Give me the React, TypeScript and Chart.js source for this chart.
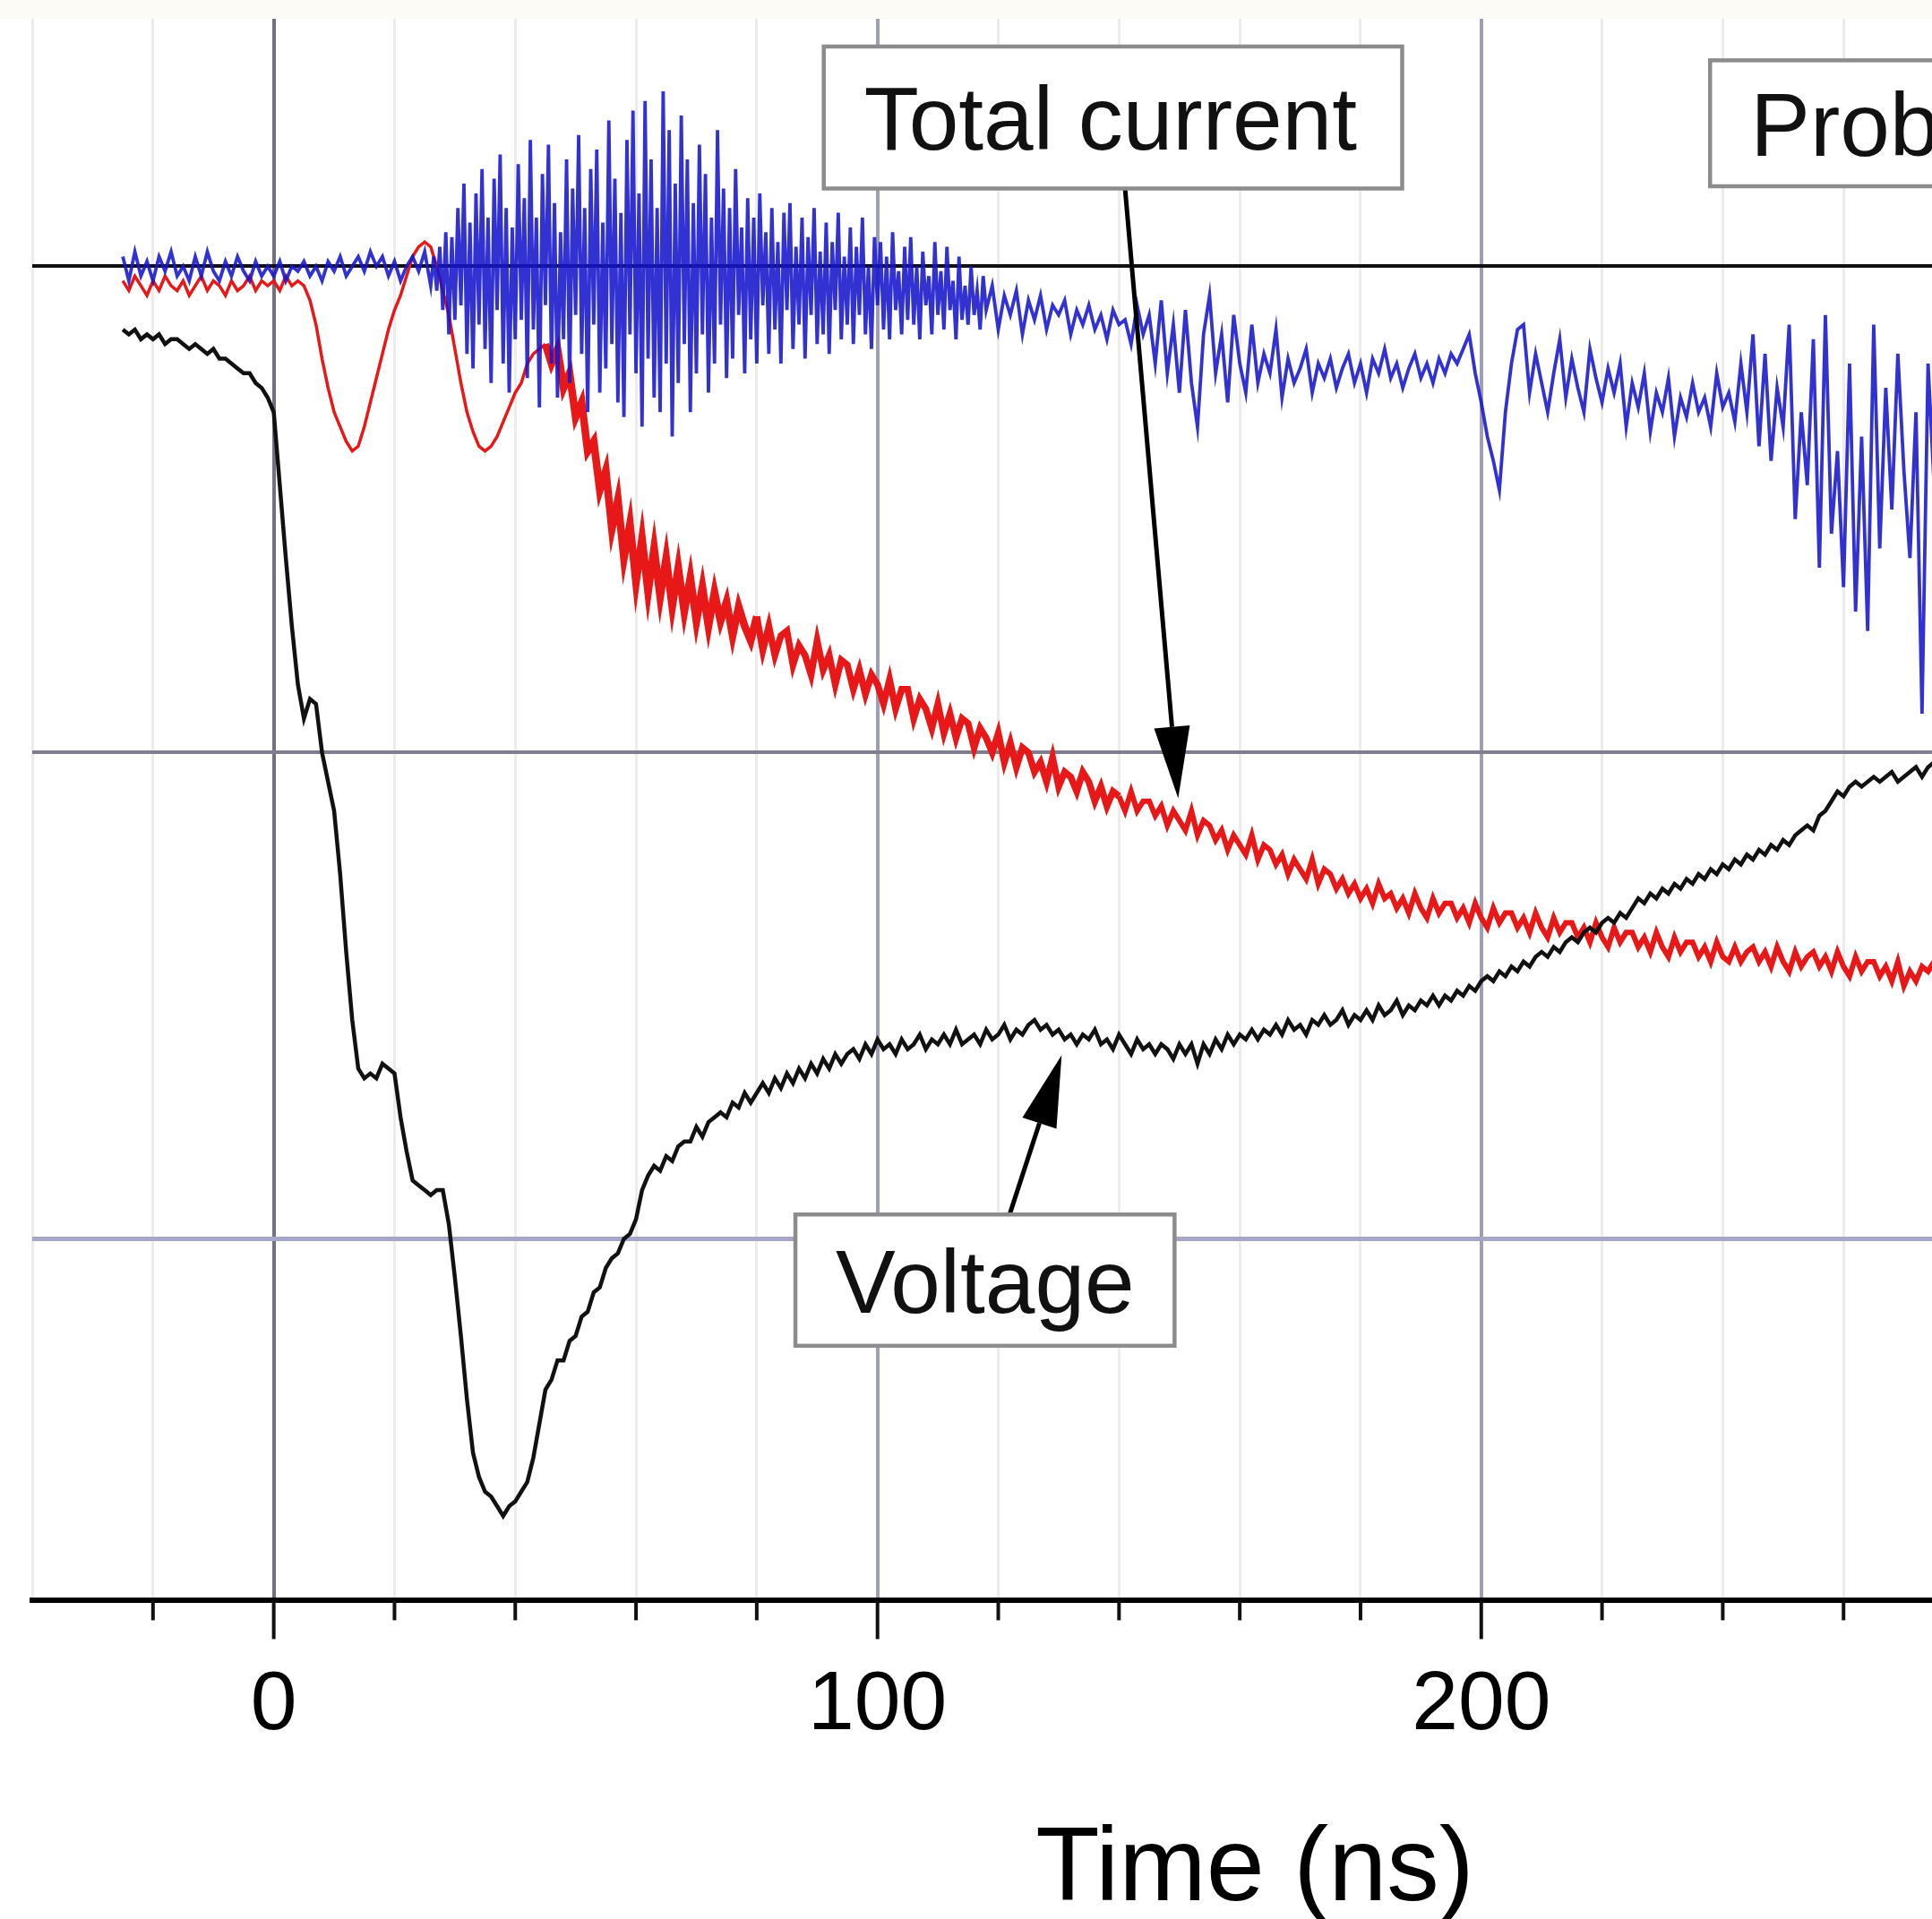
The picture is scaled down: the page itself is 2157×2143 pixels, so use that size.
import React, { useEffect, useRef } from "react";
import { Chart, registerables } from "chart.js";

Chart.register(...registerables);

// Sample times (ns) for voltage and total current
const TIME_NS = [
  -25,-24,-23,-22,-21,-20,-19,-18,-17,-16,-15,-14,-13,-12,-11,-10,-9,-8,-7,-6,
  -5,-4,-3,-2,-1,0,1,2,3,4,5,6,7,8,9,10,11,12,13,14,
  15,16,17,18,19,20,21,22,23,24,25,26,27,28,29,30,31,32,33,34,
  35,36,37,38,39,40,41,42,43,44,45,46,47,48,49,50,51,52,53,54,
  55,56,57,58,59,60,61,62,63,64,65,66,67,68,69,70,71,72,73,74,
  75,76,77,78,79,80,81,82,83,84,85,86,87,88,89,90,91,92,93,94,
  95,96,97,98,99,100,101,102,103,104,105,106,107,108,109,110,111,112,113,114,
  115,116,117,118,119,120,121,122,123,124,125,126,127,128,129,130,131,132,133,134,
  135,136,137,138,139,140,141,142,143,144,145,146,147,148,149,150,151,152,153,154,
  155,156,157,158,159,160,161,162,163,164,165,166,167,168,169,170,171,172,173,174,
  175,176,177,178,179,180,181,182,183,184,185,186,187,188,189,190,191,192,193,194,
  195,196,197,198,199,200,201,202,203,204,205,206,207,208,209,210,211,212,213,214,
  215,216,217,218,219,220,221,222,223,224,225,226,227,228,229,230,231,232,233,234,
  235,236,237,238,239,240,241,242,243,244,245,246,247,248,249,250,251,252,253,254,
  255,256,257,258,259,260,261,262,263,264,265,266,267,268,269,270,271,272,273,274,
  275,
];

// Voltage (black)
const VOLTAGE = [
  -0.13,-0.14,-0.13,-0.15,-0.14,-0.15,-0.14,-0.16,-0.15,-0.15,
  -0.16,-0.17,-0.16,-0.17,-0.18,-0.17,-0.19,-0.19,-0.2,-0.21,
  -0.22,-0.22,-0.24,-0.25,-0.27,-0.3,-0.45,-0.6,-0.74,-0.86,
  -0.93,-0.89,-0.9,-1.0,-1.06,-1.12,-1.25,-1.41,-1.55,-1.65,
  -1.67,-1.66,-1.67,-1.64,-1.65,-1.66,-1.75,-1.82,-1.88,-1.89,
  -1.9,-1.91,-1.9,-1.9,-1.97,-2.08,-2.2,-2.33,-2.44,-2.49,
  -2.52,-2.53,-2.55,-2.57,-2.55,-2.54,-2.52,-2.5,-2.45,-2.38,
  -2.31,-2.29,-2.25,-2.25,-2.21,-2.2,-2.16,-2.15,-2.11,-2.1,
  -2.06,-2.04,-2.03,-2.0,-1.99,-1.96,-1.9,-1.87,-1.85,-1.86,
  -1.83,-1.84,-1.81,-1.8,-1.8,-1.77,-1.79,-1.76,-1.75,-1.74,
  -1.75,-1.72,-1.73,-1.7,-1.72,-1.7,-1.68,-1.7,-1.67,-1.69,
  -1.66,-1.68,-1.65,-1.67,-1.64,-1.66,-1.63,-1.65,-1.62,-1.64,
  -1.62,-1.61,-1.63,-1.6,-1.62,-1.59,-1.61,-1.6,-1.62,-1.59,
  -1.61,-1.6,-1.58,-1.61,-1.59,-1.6,-1.58,-1.6,-1.57,-1.6,
  -1.59,-1.58,-1.6,-1.57,-1.59,-1.58,-1.56,-1.59,-1.57,-1.58,
  -1.56,-1.55,-1.57,-1.56,-1.58,-1.57,-1.59,-1.58,-1.6,-1.58,
  -1.59,-1.57,-1.6,-1.59,-1.61,-1.58,-1.6,-1.62,-1.59,-1.61,
  -1.6,-1.62,-1.6,-1.61,-1.63,-1.6,-1.62,-1.6,-1.64,-1.6,
  -1.62,-1.59,-1.61,-1.58,-1.6,-1.58,-1.59,-1.57,-1.59,-1.57,
  -1.58,-1.56,-1.58,-1.55,-1.57,-1.56,-1.58,-1.55,-1.56,-1.54,
  -1.56,-1.55,-1.53,-1.56,-1.54,-1.55,-1.53,-1.55,-1.52,-1.54,
  -1.53,-1.51,-1.54,-1.52,-1.53,-1.51,-1.52,-1.5,-1.52,-1.5,
  -1.51,-1.49,-1.5,-1.48,-1.49,-1.47,-1.46,-1.47,-1.45,-1.46,
  -1.44,-1.45,-1.43,-1.44,-1.42,-1.41,-1.42,-1.4,-1.41,-1.39,
  -1.38,-1.39,-1.37,-1.36,-1.37,-1.35,-1.34,-1.35,-1.33,-1.34,
  -1.32,-1.3,-1.31,-1.29,-1.3,-1.28,-1.29,-1.27,-1.28,-1.26,
  -1.27,-1.25,-1.26,-1.24,-1.25,-1.23,-1.24,-1.22,-1.23,-1.21,
  -1.22,-1.2,-1.21,-1.19,-1.2,-1.18,-1.19,-1.17,-1.16,-1.15,
  -1.16,-1.13,-1.12,-1.1,-1.08,-1.09,-1.07,-1.06,-1.07,-1.06,
  -1.05,-1.06,-1.05,-1.04,-1.06,-1.05,-1.04,-1.03,-1.05,-1.03,
  -1.02,
];

// Total current (red)
const TOTAL_CURRENT = [
  -0.03,-0.05,-0.02,-0.04,-0.06,-0.03,-0.05,-0.02,-0.04,-0.05,
  -0.03,-0.06,-0.04,-0.02,-0.05,-0.03,-0.04,-0.06,-0.03,-0.05,
  -0.04,-0.02,-0.05,-0.03,-0.04,-0.03,-0.05,-0.02,-0.04,-0.03,
  -0.04,-0.07,-0.12,-0.19,-0.25,-0.3,-0.33,-0.36,-0.38,-0.37,
  -0.33,-0.28,-0.23,-0.18,-0.13,-0.09,-0.06,-0.02,0.02,0.04,
  0.05,0.04,0.0,-0.05,-0.1,-0.17,-0.24,-0.3,-0.34,-0.37,
  -0.38,-0.37,-0.35,-0.32,-0.29,-0.26,-0.24,-0.2,-0.18,-0.17,
  -0.16,-0.2,-0.17,-0.25,-0.22,-0.31,-0.28,-0.38,-0.36,-0.46,
  -0.42,-0.54,-0.48,-0.6,-0.53,-0.65,-0.56,-0.67,-0.58,-0.68,
  -0.6,-0.7,-0.62,-0.71,-0.64,-0.73,-0.66,-0.74,-0.67,-0.73,
  -0.69,-0.76,-0.7,-0.74,-0.77,-0.72,-0.79,-0.74,-0.8,-0.76,
  -0.75,-0.82,-0.78,-0.8,-0.84,-0.77,-0.83,-0.8,-0.86,-0.81,
  -0.82,-0.87,-0.83,-0.88,-0.84,-0.86,-0.9,-0.85,-0.91,-0.87,
  -0.87,-0.93,-0.89,-0.91,-0.95,-0.9,-0.96,-0.92,-0.97,-0.93,
  -0.94,-0.99,-0.95,-0.97,-1.0,-0.96,-1.02,-0.98,-1.03,-0.99,
  -1.0,-1.04,-1.02,-1.06,-1.01,-1.07,-1.04,-1.05,-1.08,-1.04,
  -1.06,-1.1,-1.07,-1.11,-1.08,-1.09,-1.12,-1.08,-1.12,-1.1,
  -1.1,-1.13,-1.11,-1.15,-1.12,-1.14,-1.16,-1.12,-1.17,-1.14,
  -1.15,-1.18,-1.16,-1.2,-1.17,-1.19,-1.21,-1.17,-1.22,-1.19,
  -1.2,-1.23,-1.21,-1.25,-1.22,-1.24,-1.26,-1.22,-1.27,-1.24,
  -1.25,-1.28,-1.26,-1.29,-1.27,-1.3,-1.28,-1.31,-1.27,-1.3,
  -1.29,-1.32,-1.3,-1.33,-1.29,-1.32,-1.34,-1.3,-1.33,-1.31,
  -1.31,-1.34,-1.32,-1.35,-1.31,-1.34,-1.36,-1.32,-1.35,-1.33,
  -1.33,-1.36,-1.34,-1.37,-1.33,-1.36,-1.38,-1.34,-1.37,-1.35,
  -1.35,-1.38,-1.36,-1.39,-1.35,-1.38,-1.4,-1.36,-1.39,-1.37,
  -1.37,-1.4,-1.38,-1.41,-1.37,-1.4,-1.42,-1.38,-1.41,-1.39,
  -1.39,-1.42,-1.4,-1.43,-1.39,-1.42,-1.43,-1.4,-1.43,-1.41,
  -1.4,-1.43,-1.41,-1.44,-1.4,-1.43,-1.45,-1.41,-1.44,-1.42,
  -1.41,-1.44,-1.42,-1.45,-1.41,-1.44,-1.46,-1.42,-1.45,-1.43,
  -1.43,-1.46,-1.44,-1.47,-1.43,-1.48,-1.45,-1.47,-1.44,-1.45,
  -1.43,
];

// Sample times (ns) for the probe current (denser during the burst)
const PROBE_TIME = [
  -25,-24,-23,-22,-21,-20,-19,-18,-17,-16,-15,-14,-13,-12,-11,-10,-9,-8,-7,-6,
  -5,-4,-3,-2,-1,0,1,2,3,4,5,6,7,8,9,10,11,12,13,14,
  15,16,17,18,19,20,21,22,23,24,25,26,
  26.5,27,27.5,28,28.5,29,29.5,30,
  30.5,31,31.5,32,32.5,33,33.5,34,34.5,35,
  35.5,36,36.5,37,37.5,38,38.5,39,39.5,40,
  40.5,41,41.5,42,42.5,43,43.5,44,44.5,45,
  45.5,46,46.5,47,47.5,48,48.5,49,49.5,50,
  50.5,51,51.5,52,52.5,53,53.5,54,54.5,55,
  55.5,56,56.5,57,57.5,58,58.5,59,59.5,60,
  60.5,61,61.5,62,62.5,63,63.5,64,64.5,65,
  65.5,66,66.5,67,67.5,68,68.5,69,69.5,70,
  70.5,71,71.5,72,72.5,73,73.5,74,74.5,75,
  75.5,76,76.5,77,77.5,78,78.5,79,79.5,80,
  80.5,81,81.5,82,82.5,83,83.5,84,84.5,85,
  85.5,86,86.5,87,87.5,88,88.5,89,89.5,90,
  90.5,91,91.5,92,92.5,93,93.5,94,94.5,95,
  95.5,96,96.5,97,97.5,98,98.5,99,99.5,100,
  100.5,101,101.5,102,102.5,103,103.5,104,104.5,105,
  105.5,106,106.5,107,107.5,108,108.5,109,109.5,110,
  110.5,111,111.5,112,112.5,113,113.5,114,114.5,115,
  115.5,116,116.5,117,117.5,118,
  119,120,121,122,123,124,
  125,126,127,128,129,130,131,132,133,134,135,136,137,138,139,140,141,142,143,144,
  145,146,147,148,149,150,151,152,153,154,155,156,157,158,159,160,161,162,163,164,
  165,166,167,168,169,170,171,172,173,174,175,176,177,178,179,180,181,182,183,184,
  185,186,187,188,189,190,191,192,193,194,195,196,197,198,199,200,201,202,203,204,
  205,206,207,208,209,210,211,212,213,214,215,216,217,218,219,220,221,222,223,224,
  225,226,227,228,229,230,231,232,233,234,235,236,237,238,239,240,241,242,243,244,
  245,246,247,248,249,250,251,252,253,254,255,256,257,258,259,260,261,262,263,264,
  265,266,267,268,269,270,271,272,273,274,275,
];

// Probe current (blue)
const PROBE_CURRENT = [
  0.02,-0.03,0.03,-0.02,0.01,-0.03,0.02,-0.01,0.03,-0.02,
  0.0,-0.03,0.02,-0.02,0.03,-0.01,-0.03,0.01,-0.02,0.02,
  -0.01,-0.03,0.01,-0.02,0.0,-0.02,0.01,-0.03,0.0,-0.01,
  0.01,-0.02,0.0,-0.03,0.01,-0.01,0.02,-0.02,0.0,0.02,
  -0.01,0.03,0.0,0.02,-0.02,0.01,-0.03,0.0,0.02,-0.01,
  0.03,-0.04,
  0.02,-0.05,0.04,-0.09,0.07,-0.14,0.06,-0.11,
  0.12,-0.08,0.17,-0.18,0.09,-0.21,0.15,-0.12,0.2,-0.17,
  0.1,-0.24,0.18,-0.09,0.23,-0.2,0.12,-0.26,0.08,-0.15,
  0.21,-0.11,0.14,-0.23,0.26,-0.13,0.1,-0.29,0.19,-0.08,
  0.25,-0.2,0.13,-0.27,0.07,-0.15,0.22,-0.24,0.16,-0.1,
  0.27,-0.18,0.12,-0.3,0.2,-0.12,0.24,-0.26,0.09,-0.21,
  0.3,-0.16,0.18,-0.28,0.11,-0.31,0.26,-0.14,0.32,-0.22,
  0.15,-0.33,0.34,-0.19,0.22,-0.27,0.12,-0.3,0.36,-0.2,
  0.28,-0.35,0.17,-0.24,0.31,-0.16,0.22,-0.3,0.13,-0.22,
  0.25,-0.14,0.19,-0.26,0.1,-0.2,0.28,-0.12,0.16,-0.23,
  0.12,-0.19,0.2,-0.1,0.08,-0.22,0.14,-0.15,0.1,-0.2,
  0.15,-0.08,0.07,-0.18,0.12,-0.13,0.05,-0.2,0.11,-0.09,
  0.13,-0.17,0.04,-0.12,0.1,-0.19,0.06,-0.1,0.12,-0.16,
  0.03,-0.14,0.09,-0.18,0.05,-0.09,0.11,-0.15,0.02,-0.12,
  0.08,-0.16,0.04,-0.1,0.1,-0.14,0.0,-0.17,0.06,-0.08,
  0.05,-0.13,0.02,-0.15,0.07,-0.09,-0.01,-0.14,0.04,-0.11,
  0.06,-0.12,0.0,-0.15,0.03,-0.08,-0.02,-0.14,0.05,-0.1,
  -0.01,-0.13,0.04,-0.09,-0.03,-0.15,0.02,-0.11,-0.04,-0.12,
  0.0,-0.1,-0.05,-0.13,-0.02,-0.09,
  -0.04,-0.13,-0.06,-0.1,-0.05,-0.14,
  -0.07,-0.11,-0.06,-0.13,-0.08,-0.1,-0.07,-0.14,-0.09,-0.12,
  -0.08,-0.13,-0.1,-0.15,-0.09,-0.12,-0.11,-0.16,-0.08,-0.14,
  -0.1,-0.2,-0.07,-0.22,-0.12,-0.26,-0.09,-0.24,-0.33,-0.14,
  -0.06,-0.22,-0.14,-0.28,-0.1,-0.2,-0.26,-0.12,-0.24,-0.18,
  -0.22,-0.13,-0.27,-0.19,-0.24,-0.21,-0.17,-0.26,-0.2,-0.23,
  -0.19,-0.25,-0.21,-0.18,-0.24,-0.2,-0.26,-0.19,-0.22,-0.17,
  -0.23,-0.2,-0.25,-0.21,-0.18,-0.23,-0.2,-0.24,-0.19,-0.22,
  -0.18,-0.2,-0.17,-0.14,-0.22,-0.28,-0.35,-0.4,-0.46,-0.3,
  -0.2,-0.13,-0.12,-0.26,-0.18,-0.24,-0.3,-0.22,-0.15,-0.27,
  -0.19,-0.25,-0.3,-0.17,-0.23,-0.28,-0.21,-0.26,-0.2,-0.33,
  -0.24,-0.29,-0.22,-0.34,-0.26,-0.3,-0.23,-0.35,-0.27,-0.31,
  -0.24,-0.3,-0.27,-0.33,-0.22,-0.29,-0.26,-0.32,-0.2,-0.3,
  -0.14,-0.37,-0.18,-0.4,-0.25,-0.33,-0.12,-0.52,-0.3,-0.45,
  -0.15,-0.62,-0.1,-0.55,-0.38,-0.66,-0.2,-0.71,-0.35,-0.75,
  -0.12,-0.58,-0.25,-0.5,-0.18,-0.42,-0.6,-0.3,-0.92,-0.2,
  -0.45,
];

// Axis ticks / grid
const X_TICKS = [-40,-20,0,20,40,60,80,100,120,140,160,180,200,220,240,260,280,300,320,340,360];
const X_LABELED = [0, 100, 200, 300];
const Y_GRID = [-2, -1, 0];
const X_MIN = -40;
const X_MAX = 365;
const Y_MIN = -2.744;
const Y_MAX = 0.509;

// Annotations (data coordinates)
const ANNOTATIONS = [
  { text: "Total current", box: [91.1, 0.452, 186.9, 0.16], from: [141.0, 0.16], to: [149.8, -1.094] },
  { text: "Voltage", box: [86.4, -1.95, 149.2, -2.22], from: [121.8, -1.953], to: [130.5, -1.622] },
  { text: "Probe current", box: [237.9, 0.4236, 342.0, 0.1646] },
];

const FONT = '"Liberation Sans", Arial, sans-serif';

const bgPlugin = {
  id: "bg",
  beforeDraw(chart: any) {
    const { ctx, width, height, chartArea } = chart;
    ctx.save();
    ctx.fillStyle = "#ffffff";
    ctx.fillRect(0, 0, width, height);
    ctx.fillStyle = "#fcfbf5";
    ctx.fillRect(0, 0, width, chartArea.top);
    ctx.restore();
  },
};

const tickMarkPlugin = {
  id: "tickMarks",
  afterDraw(chart: any) {
    const { ctx, chartArea } = chart;
    const xs = chart.scales.x;
    ctx.save();
    ctx.strokeStyle = "#111";
    ctx.lineWidth = 4;
    X_TICKS.forEach((v) => {
      if (v <= X_MIN) return;
      const px = xs.getPixelForValue(v);
      const len = v % 100 === 0 ? 43 : 22;
      ctx.beginPath();
      ctx.moveTo(px, chartArea.bottom);
      ctx.lineTo(px, chartArea.bottom + len);
      ctx.stroke();
    });
    ctx.restore();
  },
};

const annotationPlugin = {
  id: "annots",
  afterDatasetsDraw(chart: any) {
    const { ctx } = chart;
    const xs = chart.scales.x;
    const ys = chart.scales.y;
    ctx.save();
    ANNOTATIONS.forEach((a: any) => {
      if (a.from && a.to) {
        const x1 = xs.getPixelForValue(a.from[0]);
        const y1 = ys.getPixelForValue(a.from[1]);
        const x2 = xs.getPixelForValue(a.to[0]);
        const y2 = ys.getPixelForValue(a.to[1]);
        const ang = Math.atan2(y2 - y1, x2 - x1);
        const headLen = 80;
        const headHalf = 20;
        const bx = x2 - headLen * Math.cos(ang);
        const by = y2 - headLen * Math.sin(ang);
        ctx.strokeStyle = "#000";
        ctx.lineWidth = 5;
        ctx.beginPath();
        ctx.moveTo(x1, y1);
        ctx.lineTo(bx, by);
        ctx.stroke();
        ctx.fillStyle = "#000";
        ctx.beginPath();
        ctx.moveTo(x2, y2);
        ctx.lineTo(bx + headHalf * Math.sin(ang), by - headHalf * Math.cos(ang));
        ctx.lineTo(bx - headHalf * Math.sin(ang), by + headHalf * Math.cos(ang));
        ctx.closePath();
        ctx.fill();
      }
      const l = xs.getPixelForValue(a.box[0]);
      const t = ys.getPixelForValue(a.box[1]);
      const r = xs.getPixelForValue(a.box[2]);
      const b = ys.getPixelForValue(a.box[3]);
      ctx.fillStyle = "#ffffff";
      ctx.fillRect(l, t, r - l, b - t);
      ctx.strokeStyle = "#8c8c8c";
      ctx.lineWidth = 4.5;
      ctx.strokeRect(l, t, r - l, b - t);
      ctx.fillStyle = "#111";
      ctx.font = `100px ${FONT}`;
      ctx.textAlign = "left";
      ctx.textBaseline = "alphabetic";
      ctx.fillText(a.text, l + 45, (t + b) / 2 + 36);
    });
    ctx.restore();
  },
};

export default function App() {
  const ref = useRef<HTMLCanvasElement | null>(null);

  useEffect(() => {
    if (!ref.current) return;
    const mk = (times: number[], vals: number[]) => times.map((t, i) => ({ x: t, y: vals[i] }));
    const chart = new Chart(ref.current, {
      type: "line",
      data: {
        datasets: [
          {
            label: "Voltage",
            data: mk(TIME_NS, VOLTAGE),
            borderColor: "#111111",
            borderWidth: 4.5,
            pointRadius: 0,
            tension: 0,
            order: 0,
          },
          {
            label: "Probe current",
            data: mk(PROBE_TIME, PROBE_CURRENT),
            borderColor: "rgba(22,22,205,0.88)",
            borderWidth: 3.8,
            pointRadius: 0,
            tension: 0,
            order: 1,
          },
          {
            label: "Total current",
            data: mk(TIME_NS, TOTAL_CURRENT),
            borderColor: "rgb(232,24,24)",
            borderWidth: 3,
            pointRadius: 0,
            tension: 0,
            order: 2,
            segment: {
              borderWidth: (c: any) => {
                const x = c.p0.parsed.x;
                if (x < 45) return 3.5;
                if (x < 80) return 8.5;
                if (x < 140) return 7.5;
                return 6;
              },
            },
          },
        ],
      },
      options: {
        animation: false,
        responsive: false,
        devicePixelRatio: 1,
        events: [],
        layout: { padding: { left: 36, top: 21, right: 34, bottom: 0 } },
        plugins: { legend: { display: false }, tooltip: { enabled: false } },
        scales: {
          x: {
            type: "linear",
            min: X_MIN,
            max: X_MAX,
            afterBuildTicks: (s: any) => {
              s.ticks = X_TICKS.map((v) => ({ value: v }));
            },
            afterFit: (s: any) => {
              s.paddingLeft = 0;
              s.paddingRight = 0;
            },
            grid: {
              drawTicks: false,
              color: (c: any) => {
                const v = c.tick ? c.tick.value : 0;
                if (v === 0) return "#72727c";
                if (v % 100 === 0) return "#9e9eb4";
                return "#ececec";
              },
              lineWidth: (c: any) => {
                const v = c.tick ? c.tick.value : 0;
                return v % 100 === 0 ? 4 : 3;
              },
            },
            border: { display: true, color: "#000", width: 6 },
            ticks: {
              autoSkip: false,
              maxRotation: 0,
              minRotation: 0,
              padding: 62,
              color: "#000",
              font: { family: FONT, size: 93, lineHeight: 1.2 },
              callback: (v: any) => (X_LABELED.includes(Number(v)) ? String(v) : ""),
            },
            title: {
              display: true,
              text: "Time (ns)",
              color: "#000",
              font: { family: FONT, size: 117, lineHeight: 1.0 },
              padding: { top: 8, bottom: -5 },
            },
          },
          y: {
            type: "linear",
            min: Y_MIN,
            max: Y_MAX,
            afterBuildTicks: (s: any) => {
              s.ticks = Y_GRID.map((v) => ({ value: v }));
            },
            afterFit: (s: any) => {
              s.width = 0;
            },
            ticks: { display: false },
            border: { display: false },
            grid: {
              drawTicks: false,
              color: (c: any) => {
                const v = c.tick ? c.tick.value : 0;
                if (v === 0) return "#111111";
                if (v === -1) return "#7e7e90";
                return "#a6a6c8";
              },
              lineWidth: (c: any) => {
                const v = c.tick ? c.tick.value : 0;
                return v === -2 ? 5 : 4;
              },
            },
          },
        },
      },
      plugins: [bgPlugin, tickMarkPlugin, annotationPlugin],
    } as any);
    return () => chart.destroy();
  }, []);

  return (
    <div
      style={{
        position: "absolute",
        left: 0,
        top: 0,
        width: 2157,
        height: 2143,
        overflow: "hidden",
        background: "#fff",
      }}
    >
      <canvas ref={ref} width={2800} height={2143} style={{ display: "block", width: 2800, height: 2143 }} />
    </div>
  );
}
